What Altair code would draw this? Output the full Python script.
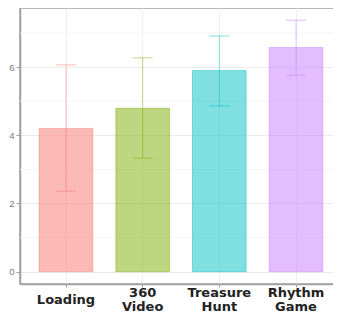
import altair as alt
import pandas as pd

categories = ["Loading", "360 Video", "Treasure Hunt", "Rhythm Game"]
means = [4.20, 4.79, 5.90, 6.57]
err_low = [2.36, 3.33, 4.86, 5.76]
err_high = [6.06, 6.27, 6.91, 7.37]
colors = ["#F8766D", "#7CAE00", "#00BFC4", "#C77CFF"]
minor_grid = [1, 3, 5, 7]
major_ticks = [0, 2, 4, 6]

df = pd.DataFrame({"cat": categories, "mean": means, "lo": err_low, "hi": err_high})
minor_df = pd.DataFrame({"v": minor_grid})

PLOT_H = 276

x = alt.X(
    "cat:N",
    sort=categories,
    title=None,
    scale=alt.Scale(paddingInner=0.3, paddingOuter=0.25),
    axis=alt.Axis(
        labelAngle=0,
        labelFont="DejaVu Sans",
        labelFontWeight="bold",
        labelFontSize=13,
        labelColor="#222222",
        labelLineHeight=14,
        labelBaseline="top",
        labelPadding=alt.condition("datum.value == 'Loading'", alt.value(6), alt.value(-1)),
        labelExpr="split(datum.value, ' ')",
        tickColor="#A0A0A0",
        tickSize=3,
        domainColor="#A0A0A0",
        domainWidth=1.5,
        grid=True,
        gridColor="#EFEFEF",
        gridWidth=1,
    ),
)
yscale = alt.Scale(domain=[-0.36, 7.73], nice=False, zero=False)
color = alt.Color("cat:N", scale=alt.Scale(domain=categories, range=colors), legend=None)

minor = alt.Chart(minor_df).mark_rule(color="#F3F3F3", strokeWidth=0.8).encode(
    y=alt.Y("v:Q", scale=yscale)
)

bars = alt.Chart(df).mark_bar(fillOpacity=0.5, strokeOpacity=0.45, strokeWidth=1).encode(
    x=x,
    y=alt.Y(
        "mean:Q",
        scale=yscale,
        title=None,
        axis=alt.Axis(
            values=major_ticks,
            labelFont="Liberation Sans",
            labelFontSize=9.5,
            labelColor="#7A7A7A",
            labelPadding=2,
            tickColor="#A0A0A0",
            tickSize=4,
            domainColor="#A0A0A0",
            domainWidth=1.5,
            gridColor="#EBEBEB",
            gridWidth=1,
        ),
    ),
    y2=alt.datum(0),
    color=color,
    stroke=color,
)

rules = alt.Chart(df).mark_rule(opacity=0.45, strokeWidth=1).encode(
    x=alt.X("cat:N", sort=categories),
    y=alt.Y("lo:Q", scale=yscale),
    y2="hi:Q",
    color=color,
)
cap_hi = alt.Chart(df).mark_tick(opacity=0.5, size=20, thickness=1).encode(
    x=alt.X("cat:N", sort=categories),
    y=alt.Y("hi:Q", scale=yscale),
    color=color,
)
cap_lo = alt.Chart(df).mark_tick(opacity=0.5, size=20, thickness=1).encode(
    x=alt.X("cat:N", sort=categories),
    y=alt.Y("lo:Q", scale=yscale),
    color=color,
)

chart = (
    alt.layer(minor, bars, rules, cap_hi, cap_lo)
    .properties(
        width=322,
        height=PLOT_H,
        autosize=alt.AutoSizeParams(type="none"),
        padding={"left": 12, "top": 0, "right": -9, "bottom": 28},
        background="white",
    )
    .configure_view(stroke="#A0A0A0", strokeWidth=1.5)
)

chart.save("out.html", embed_options={"renderer": "svg", "actions": False})
